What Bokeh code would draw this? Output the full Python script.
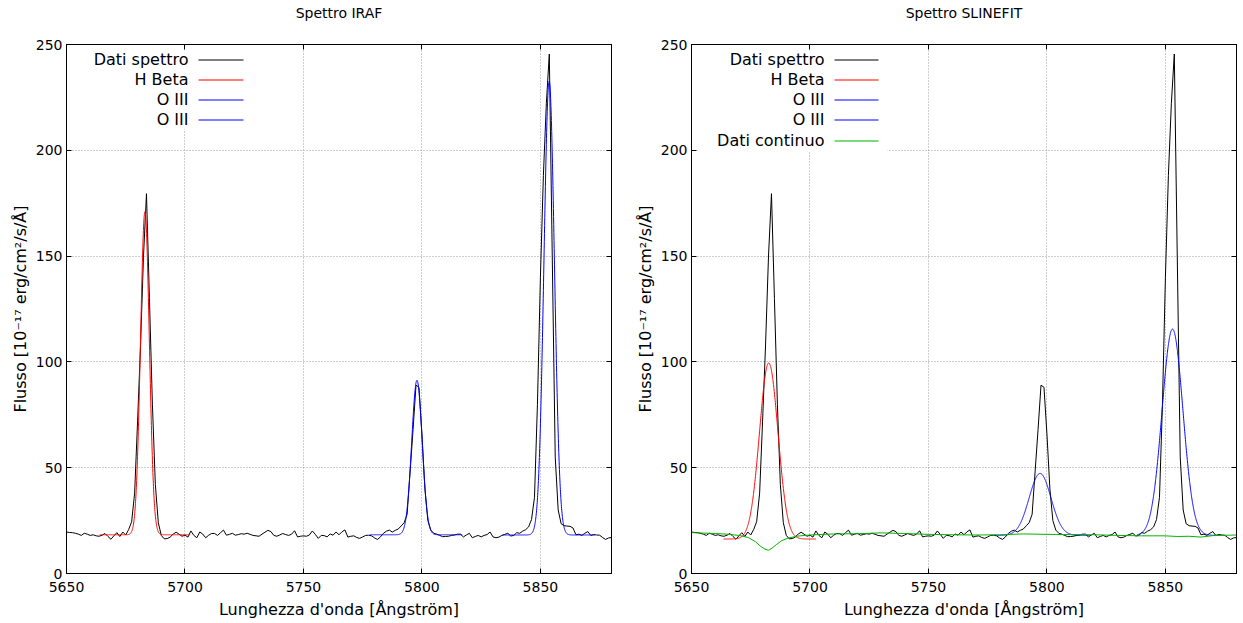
import numpy as np
from bokeh.plotting import figure
from bokeh.layouts import row
from bokeh.models import (FixedTicker, LinearAxis, BoxAnnotation, Label,
                          Range1d, CustomJSTickFormatter)
from bokeh.embed import file_html
from bokeh.resources import INLINE

# ---------------- data ----------------
wl_start = 5650.0
wl_step = 1.25
flux = [
    19.6, 19.4, 19.3, 19.0, 18.6, 18.0, 19.0, 18.6, 18.0, 18.3,
    17.8, 17.6, 18.1, 18.9, 17.5, 16.2, 17.8, 19.3, 17.5, 19.6,
    18.2, 20.8, 24.5, 38.0, 72.0, 108.0, 150.0, 179.5, 130.0, 80.0,
    42.0, 24.0, 18.0, 16.4, 16.5, 17.2, 18.6, 19.5, 18.6, 17.6,
    18.1, 17.2, 20.1, 18.0, 16.9, 19.6, 18.6, 16.9, 18.1, 18.9,
    18.9, 18.0, 19.3, 20.5, 18.1, 18.5, 19.0, 18.1, 18.4, 18.8,
    18.6, 19.0, 18.5, 18.0, 17.8, 17.6, 18.6, 19.5, 20.4, 19.8,
    18.0, 17.6, 18.2, 18.9, 18.4, 18.0, 18.6, 20.2, 17.3, 17.6,
    17.8, 17.6, 18.2, 20.1, 18.5, 16.6, 18.0, 17.9, 17.3, 18.7,
    18.1, 19.6, 18.3, 19.7, 20.6, 17.2, 17.6, 17.8, 17.0, 16.6,
    17.3, 18.0, 18.1, 17.8, 16.8, 16.1, 17.3, 19.0, 20.0, 20.5,
    19.6, 20.4, 21.0, 22.5, 24.0, 28.0, 48.0, 68.0, 89.0, 88.0,
    66.0, 40.0, 25.0, 20.5, 19.0, 18.6, 18.0, 17.4, 17.5, 17.6,
    18.0, 18.2, 18.6, 18.6, 17.3, 18.2, 19.0, 16.9, 17.5, 18.0,
    17.3, 18.0, 18.4, 19.6, 17.3, 16.9, 17.2, 18.0, 18.5, 19.0,
    17.7, 18.0, 19.3, 19.0, 20.0, 20.7, 22.0, 25.5, 36.0, 80.0,
    140.0, 188.0, 222.0, 245.5, 150.0, 55.0, 30.0, 23.5, 22.6, 22.4,
    22.3, 21.5, 18.3, 18.6, 18.0, 19.0, 19.8, 18.0, 18.4, 18.2,
    18.1, 17.0, 16.1, 16.8, 17.0,
]
wavelength = wl_start + wl_step * np.arange(len(flux))

# Gaussian fit parameters (IRAF)
iraf_names = ["H Beta", "O III", "O III"]
iraf_center = [5683.1, 5797.9, 5853.7]
iraf_amp = [152.7, 73.0, 214.5]
iraf_sigma = [1.85, 2.2, 2.2]
iraf_base = [18.3, 18.3, 18.2]
iraf_lo = [5664.0, 5778.0, 5834.0]
iraf_hi = [5702.0, 5817.0, 5873.0]

# Gaussian fit parameters (SLINEFIT)
slf_names = ["H Beta", "O III", "O III"]
slf_center = [5682.6, 5797.1, 5853.0]
slf_amp = [83.2, 29.3, 97.5]
slf_sigma = [3.9, 4.6, 4.4]
slf_base = [16.3, 18.0, 18.0]
slf_lo = [5663.5, 5778.0, 5838.0]
slf_hi = [5702.5, 5818.0, 5873.0]

# continuum (SLINEFIT)
cont_wl = [5650, 5655, 5660, 5665, 5670, 5674, 5677, 5679, 5681, 5682.5,
           5684, 5686, 5688, 5691, 5695, 5700, 5710, 5720, 5730, 5740,
           5750, 5760, 5770, 5780, 5790, 5800, 5810, 5820, 5830, 5840,
           5850, 5855, 5860, 5865, 5870, 5880]
cont_flux = [19.3, 19.1, 18.9, 18.6, 18.0, 17.0, 15.0, 13.0, 11.5, 11.0,
             12.0, 13.8, 15.5, 16.8, 17.7, 18.2, 18.7, 18.8, 19.2, 18.9,
             18.5, 18.3, 18.2, 18.3, 18.7, 18.5, 18.4, 18.3, 18.0, 17.8,
             17.8, 17.5, 17.6, 17.2, 17.9, 18.2]

x_ticks = [5650, 5700, 5750, 5800, 5850]
y_ticks = [0, 50, 100, 150, 200, 250]
x_limits = (5650, 5880)
y_limits = (0, 250)

FONT = "DejaVu Sans"
FS = "14px"
BIG_FS = "16px"
FRAME_W = 545
FRAME_H = 529
BLACK = "#000000"
RED = "#ff0000"
BLUE = "#0000ff"
GREEN = "#00b400"

EMPTY = "return ''"


def make_panel(title, min_left, min_right):
    p = figure(frame_width=FRAME_W, frame_height=FRAME_H,
               x_range=Range1d(*x_limits), y_range=Range1d(*y_limits),
               output_backend="svg", toolbar_location=None,
               min_border_left=min_left, min_border_right=min_right,
               min_border_top=44, min_border_bottom=48)
    p.background_fill_color = "white"
    p.border_fill_color = "white"
    p.outline_line_color = "black"
    p.outline_line_width = 1

    p.xaxis.ticker = FixedTicker(ticks=x_ticks)
    p.yaxis.ticker = FixedTicker(ticks=y_ticks)
    for ax in (p.xaxis[0], p.yaxis[0]):
        ax.major_tick_in = 5
        ax.major_tick_out = 0
        ax.minor_tick_line_color = None
        ax.axis_line_color = "black"
        ax.major_tick_line_color = "black"
        ax.major_label_text_font = FONT
        ax.major_label_text_font_size = FS
        ax.major_label_text_color = "black"
        ax.axis_label_text_font = FONT
        ax.axis_label_text_font_size = BIG_FS
        ax.axis_label_text_font_style = "normal"
        ax.axis_label_text_color = "black"
    p.xaxis.major_label_standoff = 8
    p.yaxis.major_label_standoff = 4
    p.xaxis.axis_label = "Lunghezza d'onda [Ångström]"
    p.yaxis.axis_label = "Flusso [10⁻¹⁷ erg/cm²/s/Å]"
    p.xaxis.axis_label_standoff = 5
    p.yaxis.axis_label_standoff = 3

    # mirrored tick marks on top and right; the top axis carries the panel title
    top = LinearAxis(ticker=FixedTicker(ticks=x_ticks),
                     formatter=CustomJSTickFormatter(code=EMPTY),
                     major_tick_in=5, major_tick_out=0,
                     minor_tick_line_color=None, axis_line_color="black",
                     major_label_standoff=0, major_label_text_font_size="0px",
                     axis_label=title, axis_label_standoff=24,
                     axis_label_text_font=FONT, axis_label_text_font_size=FS,
                     axis_label_text_font_style="normal",
                     axis_label_text_color="black")
    p.add_layout(top, "above")
    right = LinearAxis(ticker=FixedTicker(ticks=y_ticks),
                       formatter=CustomJSTickFormatter(code=EMPTY),
                       major_tick_in=5, major_tick_out=0,
                       minor_tick_line_color=None, axis_line_color="black",
                       major_label_standoff=0, major_label_text_font_size="0px")
    p.add_layout(right, "right")

    for g in (p.xgrid[0], p.ygrid[0]):
        g.grid_line_color = "#9a9a9a"
        g.grid_line_dash = "1 2"
        g.grid_line_width = 1
    return p


def add_fits(p, centers, amps, sigmas, bases, los, his, colors):
    for c, a, s, b, lo, hi, col in zip(centers, amps, sigmas, bases, los, his, colors):
        xs = np.linspace(lo, hi, 600)
        ys = b + a * np.exp(-((xs - c) ** 2) / (2 * s ** 2))
        p.line(xs, ys, line_color=col, line_width=1)


def screen_box(left, right, top, bottom, color):
    return BoxAnnotation(left=left, right=right, top=top, bottom=bottom,
                         left_units="screen", right_units="screen",
                         top_units="screen", bottom_units="screen",
                         fill_color=color, fill_alpha=1.0, line_color=None)


def add_legend(p, labels, colors, text_right, line_x0, line_x1, box_right, box_bottom):
    p.add_layout(screen_box(6, box_right, FRAME_H - 6, FRAME_H - box_bottom, "white"))
    for i, (lab, col) in enumerate(zip(labels, colors)):
        row_y = FRAME_H - round(14.8 + 20.2 * i)
        p.add_layout(Label(x=text_right, y=row_y, x_units="screen", y_units="screen",
                           text=lab, text_align="right", text_baseline="middle",
                           text_font=FONT, text_font_size=BIG_FS, text_color="black"))
        p.add_layout(screen_box(line_x0, line_x1, row_y, row_y - 1, col))


# ---------------- left panel ----------------
p1 = make_panel("Spettro IRAF", 66, 18)
p1.line(wavelength, flux, line_color=BLACK, line_width=1)
add_fits(p1, iraf_center, iraf_amp, iraf_sigma, iraf_base, iraf_lo, iraf_hi,
         [RED, BLUE, BLUE])
add_legend(p1, ["Dati spettro"] + iraf_names, [BLACK, RED, BLUE, BLUE],
           122, 132, 177, 186, 85)

# ---------------- right panel ----------------
p2 = make_panel("Spettro SLINEFIT", 62, 2)
p2.line(wavelength, flux, line_color=BLACK, line_width=1)
add_fits(p2, slf_center, slf_amp, slf_sigma, slf_base, slf_lo, slf_hi,
         [RED, BLUE, BLUE])
p2.line(cont_wl, cont_flux, line_color=GREEN, line_width=1)
add_legend(p2, ["Dati spettro"] + slf_names + ["Dati continuo"],
           [BLACK, RED, BLUE, BLUE, GREEN], 133, 143, 187, 196, 107)

layout = row(p1, p2)
open("out.html", "w").write(file_html(layout, INLINE))
